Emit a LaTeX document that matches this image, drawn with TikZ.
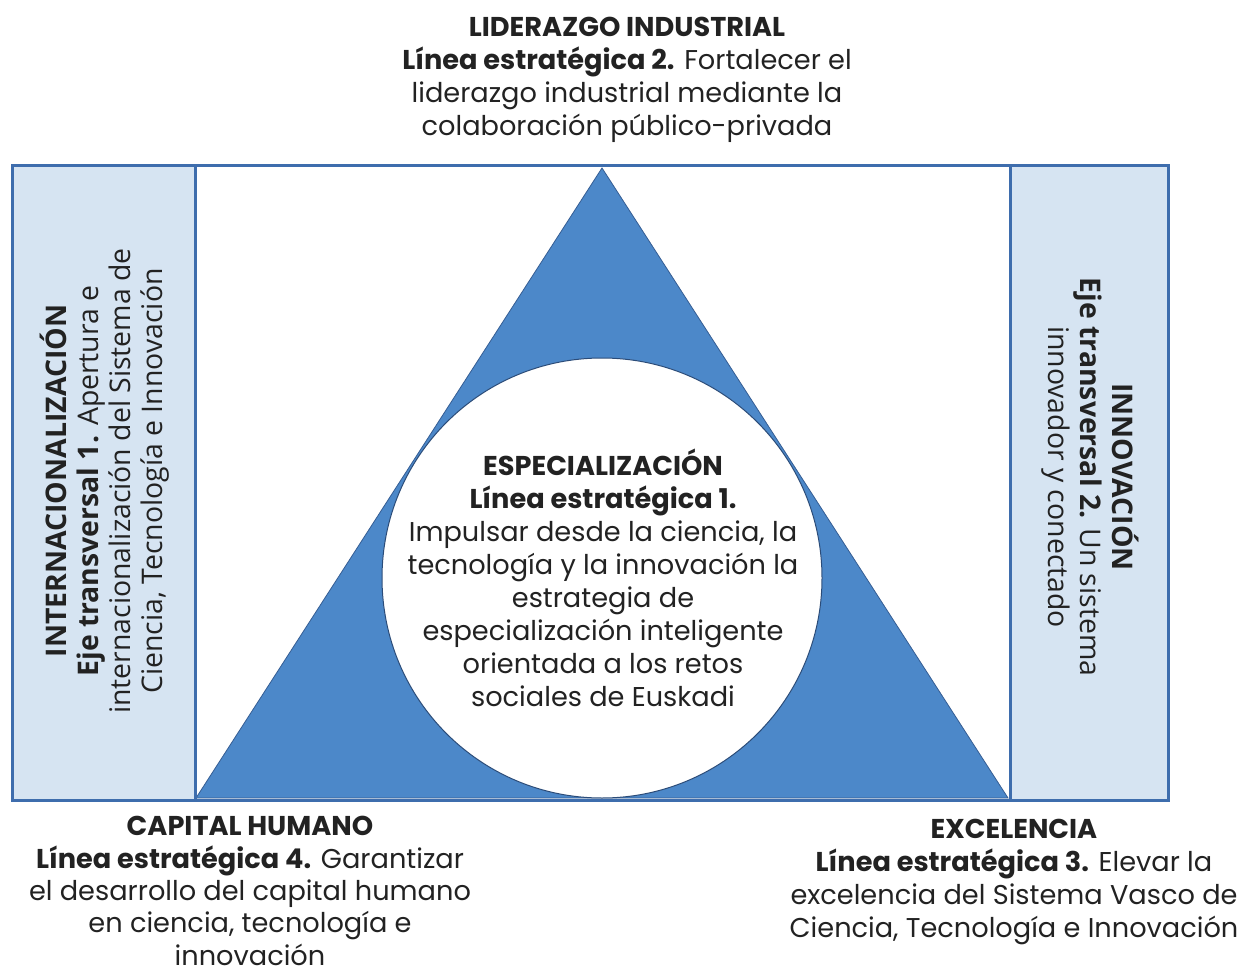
\documentclass[tikz,border=0pt]{standalone}
\usepackage{fontspec}
\setmainfont{Poppins}
\newfontfamily\panelfont{Open Sans}
\definecolor{panelblue}{HTML}{D6E4F2}
\definecolor{borderblue}{HTML}{3E6DAD}
\definecolor{triblue}{HTML}{4C88C9}
\definecolor{txtgray}{HTML}{222222}
\begin{document}
\begin{tikzpicture}[x=0.5pt,y=-0.5pt,
  txt/.style={align=center, text=txtgray, font=\fontsize{13.6}{16.5}\selectfont, inner sep=0pt},
  ptxt/.style={align=center, text=txtgray, font=\panelfont\fontsize{14.2}{16}\selectfont, inner sep=0pt},
  frame/.style={draw=borderblue, line width=1.5pt},
]
\useasboundingbox (0,0) rectangle (1240,978);
% side panels
\fill[panelblue] (12,166) rectangle (195,800);
\fill[panelblue] (1010,166) rectangle (1168,800);
% triangle
\coordinate (apex) at (602,168);
\coordinate (bl) at (196,798);
\coordinate (br) at (1008,798);
\fill[triblue] (apex) -- (bl) -- (br) -- cycle;
\draw[borderblue!85!black, line width=0.4pt] (apex) -- (bl) -- (br) -- cycle;
% circle
\node[circle, fill=white, draw=borderblue!70!black, line width=0.5pt, minimum size=220pt, inner sep=0pt] (circ) at (602,578) {};
% frame
\draw[frame] (12,166) rectangle (1168,800);
\draw[frame] (195,166) -- (195,800);
\draw[frame] (1010,166) -- (1010,800);
% texts
\node[txt] (top) at (627,80) {\textbf{LIDERAZGO INDUSTRIAL}\\
  \textbf{Línea estratégica 2.} Fortalecer el\\
  liderazgo industrial mediante la\\
  colaboración público-privada};
\node[txt] (center) at (603,578) {\textbf{ESPECIALIZACIÓN}\\
  \textbf{Línea estratégica 1.}\\
  Impulsar desde la ciencia, la\\
  tecnología y la innovación la\\
  estrategia de\\
  especialización inteligente\\
  orientada a los retos\\
  sociales de Euskadi};
\node[txt, font=\fontsize{13.6}{16.2}\selectfont] (capital) at (250,891) {\textbf{CAPITAL HUMANO}\\
  \textbf{Línea estratégica 4.} Garantizar\\
  el desarrollo del capital humano\\
  en ciencia, tecnología e\\
  innovación};
\node[txt] (excel) at (1014,882) {\textbf{EXCELENCIA}\\
  \textbf{Línea estratégica 3.} Elevar la\\
  excelencia del Sistema Vasco de\\
  Ciencia, Tecnología e Innovación};
\node[ptxt, rotate=90] (intl) at (105,481) {\textbf{INTERNACIONALIZACIÓN}\\
  \textbf{Eje transversal 1.} Apertura e\\
  internacionalización del Sistema de\\
  Ciencia, Tecnología e Innovación};
\node[ptxt, rotate=-90] (innov) at (1090,477) {\textbf{INNOVACIÓN}\\
  \textbf{Eje transversal 2.} Un sistema\\
  innovador y conectado};
\end{tikzpicture}
\end{document}
